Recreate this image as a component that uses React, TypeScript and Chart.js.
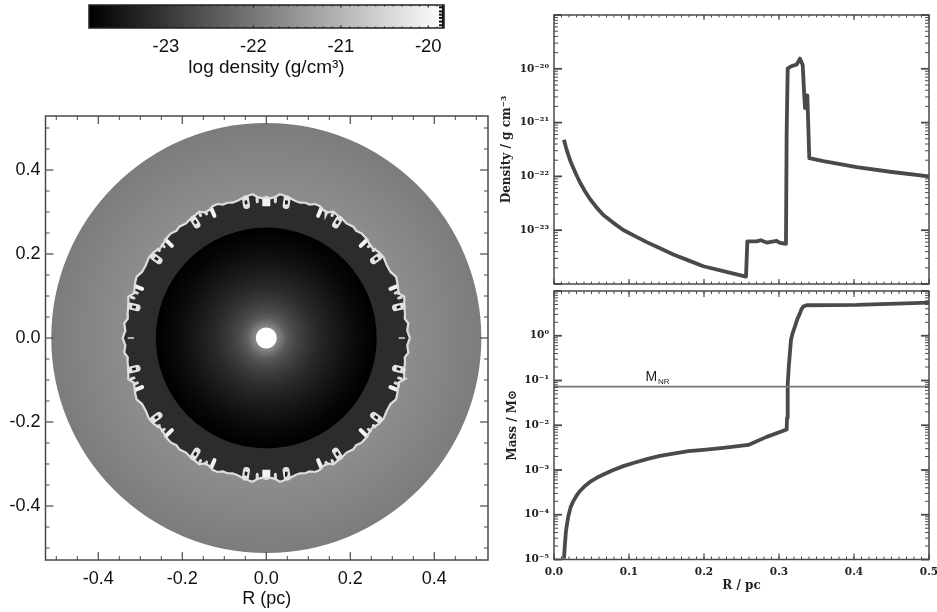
import React, { useEffect, useRef } from "react";
import { Chart, registerables } from "chart.js";

Chart.register(...registerables);

// ---------- profile data ----------
const densityRadius = [0.0133, 0.016, 0.0191, 0.0222, 0.0258, 0.0302, 0.0347, 0.0413, 0.048, 0.0569, 0.0658, 0.0791, 0.0924, 0.108, 0.1236, 0.1413, 0.1591, 0.1791, 0.1991, 0.2258, 0.256, 0.2578, 0.2702, 0.2756, 0.2836, 0.2969, 0.3013, 0.3093, 0.3102, 0.3116, 0.3169, 0.3236, 0.328, 0.3316, 0.3338, 0.3347, 0.336, 0.3378, 0.3404, 0.3591, 0.4036, 0.448, 0.5];
const densityValue = [4.8e-22, 3.44e-22, 2.5e-22, 1.87e-22, 1.43e-22, 1.04e-22, 7.7e-23, 5.3e-23, 3.8e-23, 2.63e-23, 1.92e-23, 1.37e-23, 1.01e-23, 7.76e-24, 6.0e-24, 4.6e-24, 3.55e-24, 2.75e-24, 2.14e-24, 1.74e-24, 1.37e-24, 6.2e-24, 6.2e-24, 6.5e-24, 5.9e-24, 6.3e-24, 5.8e-24, 5.6e-24, 6.3e-22, 1.02e-20, 1.12e-20, 1.2e-20, 1.55e-20, 1.17e-20, 3.0e-21, 1.86e-21, 3.2e-21, 3.2e-21, 2.18e-22, 1.92e-22, 1.48e-22, 1.22e-22, 1.0e-22];

const massRadius = [0.0133, 0.0142, 0.016, 0.0191, 0.0222, 0.0258, 0.0302, 0.0347, 0.0413, 0.048, 0.0569, 0.0658, 0.0791, 0.0924, 0.108, 0.1236, 0.1413, 0.1591, 0.1791, 0.1991, 0.2258, 0.2591, 0.2836, 0.3102, 0.3107, 0.3116, 0.3129, 0.3147, 0.316, 0.3182, 0.3213, 0.3244, 0.328, 0.3302, 0.3324, 0.3369, 0.4036, 0.5];
const massValue = [1.05e-5, 1.82e-5, 4.4e-5, 9.3e-5, 1.48e-4, 2.02e-4, 2.7e-4, 3.4e-4, 4.4e-4, 5.4e-4, 6.7e-4, 7.9e-4, 1.0e-3, 1.22e-3, 1.47e-3, 1.75e-3, 2.07e-3, 2.33e-3, 2.63e-3, 2.82e-3, 3.12e-3, 3.63e-3, 5.5e-3, 8.0e-3, 1.46e-2, 8.05e-2, 0.19, 0.447, 0.81, 1.15, 1.62, 2.35, 3.2, 4.0, 4.5, 4.8, 4.9, 5.5];
const nrMassRadius = [0, 0.5];
const nrMassValue = [0.0728, 0.0728];

// ---------- density map ----------
const outerRadius = 0.512;
const cavityRadius = 0.263;
const holeRadius = 0.025;
const shellGrey = 44;
const outerDiscRadii = [0.335, 0.42, 0.512];
const outerDiscGrey = [141, 133, 124];
const cavityRadii = [0.025, 0.048, 0.0658, 0.0924, 0.1236, 0.159, 0.199, 0.2258, 0.263];
const cavityGrey = [138, 92, 74, 56, 40, 27, 14, 7, 0];

// front edge, one quadrant: angle in degrees from +x, radius in pc
const frontAngles = [0, 3, 5.9, 8, 10, 13, 16.7, 18.5, 20, 23, 25.3, 28, 31.2, 34.5, 37.6, 40, 41.9, 45, 47.7, 50, 52, 55, 57.8, 60, 62, 64, 66, 68, 70, 72, 74, 76, 78.2, 80, 81.8, 83, 84.6, 86.5, 88.5, 90];
const frontRadii = [0.342, 0.336, 0.34, 0.333, 0.3354, 0.337, 0.343, 0.333, 0.3344, 0.339, 0.3416, 0.335, 0.3352, 0.339, 0.3367, 0.331, 0.3317, 0.336, 0.337, 0.333, 0.3364, 0.333, 0.3368, 0.338, 0.3405, 0.332, 0.3336, 0.339, 0.3395, 0.334, 0.335, 0.332, 0.334, 0.337, 0.3385, 0.342, 0.3437, 0.336, 0.3327, 0.336];

const fingerAngles = [67, 44.3, 21.6];
const fingerTipRadii = [0.316, 0.314, 0.318];
const fingerBaseRadii = [0.334, 0.334, 0.334];
const stubAngles = [86.2, 64.3, 61.8, 41.8, 39.3, 19.2, 16.8];
const stubTipRadii = [0.325, 0.328, 0.331, 0.326, 0.329, 0.325, 0.329];
const stubBaseRadii = [0.333, 0.333, 0.335, 0.332, 0.334, 0.333, 0.336];
const eyeAngles = [81.5, 58.5, 35.8, 13.2];
const eyeRadii = [0.328, 0.325, 0.324, 0.325];

// ---------- tick labels and ticks ----------
const mapMajorTicks = [-0.4, -0.2, 0, 0.2, 0.4];
const mapMinorTicks = [-0.5, -0.45, -0.35, -0.3, -0.25, -0.15, -0.1, -0.05, 0.05, 0.1, 0.15, 0.25, 0.3, 0.35, 0.45, 0.5];
const barTicks = [-23, -22, -21, -20];
const barMinorTicks = [-23.8, -23.7, -23.6, -23.5, -23.4, -23.3, -23.2, -23.1, -22.9, -22.8, -22.7, -22.6, -22.5, -22.4, -22.3, -22.2, -22.1, -21.9, -21.8, -21.7, -21.6, -21.5, -21.4, -21.3, -21.2, -21.1, -20.9, -20.8, -20.7, -20.6, -20.5, -20.4, -20.3, -20.2, -20.1, -19.9];
const radiusTicks = [0, 0.1, 0.2, 0.3, 0.4, 0.5];
const radiusMinorStepCount = 50;
const densityDecades = [-24, -23, -22, -21, -20, -19];
const densityLabelled = [-23, -22, -21, -20];
const massDecades = [-5, -4, -3, -2, -1, 0, 1];
const massLabelled = [-5, -4, -3, -2, -1, 0];
const logMultipliers = [2, 3, 4, 5, 6, 7, 8, 9];

const barMin = -23.88;
const barMax = -19.82;
const mapXMin = -0.5257;
const mapXMax = 0.5279;
const mapYMax = 0.5286;

const FRAME = "#4a4a4a";
const SANS = "'Liberation Sans', Arial, sans-serif";
const SLAB = "'DejaVu Serif', serif";

const SUP: Record<string, string> = { "-": "⁻", "0": "⁰", "1": "¹", "2": "²", "3": "³", "4": "⁴", "5": "⁵", "6": "⁶", "7": "⁷", "8": "⁸", "9": "⁹" };
const powerLabel = (v: number) => "10" + String(Math.round(Math.log10(v))).split("").map((c) => SUP[c]).join("");
const grey = (g: number) => `rgb(${g},${g},${g})`;
const round = (a: number, k: number) => Math.round(a * k) / k;

// polar reading -> data coordinates
const polar = (deg: number, r: number) => ({ x: r * Math.cos((deg * Math.PI) / 180), y: r * Math.sin((deg * Math.PI) / 180) });
const mirrored = (a: number) => [a, 180 - a, 180 + a, 360 - a];

const frontLoop = () => {
  const pts: { x: number; y: number }[] = [];
  const n = frontAngles.length;
  for (let i = 0; i < n; i++) pts.push(polar(frontAngles[i], frontRadii[i]));
  for (let i = n - 2; i >= 0; i--) pts.push(polar(180 - frontAngles[i], frontRadii[i]));
  for (let i = 1; i < n; i++) pts.push(polar(180 + frontAngles[i], frontRadii[i]));
  for (let i = n - 2; i >= 0; i--) pts.push(polar(360 - frontAngles[i], frontRadii[i]));
  return pts;
};

const radialSegments = (angles: number[], from: number[], to: number[]) => {
  const out: any[] = [];
  angles.forEach((a, i) => {
    mirrored(a).forEach((m) => {
      out.push(polar(m, from[i]), polar(m, to[i]), { x: NaN, y: NaN });
    });
  });
  return out;
};

// ---------- plugins ----------
type TickSpec = {
  xMajor: number[];
  xMinor: number[];
  yMajor: number[];
  yMinor: number[];
  xMajorLen: number;
  xMinorLen: number;
  yMajorLen: number;
  yMinorLen: number;
  yMajorWidth: number;
  frame?: number;
  color?: string;
};

const frameTicks = (spec: TickSpec) => ({
  id: "frameTicks",
  afterDatasetsDraw(chart: any) {
    const { ctx, chartArea: a, scales } = chart;
    const color = spec.color || FRAME;
    ctx.save();
    ctx.strokeStyle = color;
    const seg = (x0: number, y0: number, x1: number, y1: number, w: number) => {
      ctx.lineWidth = w;
      ctx.beginPath();
      ctx.moveTo(x0, y0);
      ctx.lineTo(x1, y1);
      ctx.stroke();
    };
    const xT = (v: number, len: number, w: number) => {
      const p = scales.x.getPixelForValue(v);
      seg(p, a.bottom, p, a.bottom - len, w);
      seg(p, a.top, p, a.top + len, w);
    };
    const yT = (v: number, len: number, w: number) => {
      const p = scales.y.getPixelForValue(v);
      seg(a.left, p, a.left + len, p, w);
      seg(a.right, p, a.right - len, p, w);
    };
    spec.xMinor.forEach((v) => xT(v, spec.xMinorLen, 1));
    spec.xMajor.forEach((v) => xT(v, spec.xMajorLen, 1.2));
    spec.yMinor.forEach((v) => yT(v, spec.yMinorLen, 1));
    spec.yMajor.forEach((v) => yT(v, spec.yMajorLen, spec.yMajorWidth));
    ctx.lineWidth = spec.frame || 1.5;
    ctx.strokeRect(a.left, a.top, a.right - a.left, a.bottom - a.top);
    ctx.restore();
  },
});

const densityMap = {
  id: "densityMap",
  beforeDatasetsDraw(chart: any) {
    const { ctx, chartArea: a, scales } = chart;
    const X = scales.x;
    const Y = scales.y;
    const cx = X.getPixelForValue(0);
    const cy = Y.getPixelForValue(0);
    const px = (r: number) => X.getPixelForValue(r) - cx;
    ctx.save();
    ctx.beginPath();
    ctx.rect(a.left, a.top, a.right - a.left, a.bottom - a.top);
    ctx.clip();
    const disc = (r: number, fill: any) => {
      ctx.fillStyle = fill;
      ctx.beginPath();
      ctx.arc(cx, cy, px(r), 0, Math.PI * 2);
      ctx.fill();
    };
    const radial = (radii: number[], greys: number[], rMax: number) => {
      const g = ctx.createRadialGradient(cx, cy, 0, cx, cy, px(rMax));
      radii.forEach((r, i) => g.addColorStop(r / rMax, grey(greys[i])));
      return g;
    };
    disc(outerRadius, radial(outerDiscRadii, outerDiscGrey, outerRadius));
    ctx.fillStyle = grey(shellGrey);
    ctx.beginPath();
    frontLoop().forEach((p, i) => {
      const x = X.getPixelForValue(p.x);
      const y = Y.getPixelForValue(p.y);
      if (i === 0) ctx.moveTo(x, y);
      else ctx.lineTo(x, y);
    });
    ctx.closePath();
    ctx.fill();
    disc(cavityRadius, radial(cavityRadii, cavityGrey, cavityRadius));
    disc(holeRadius, "#ffffff");
    ctx.restore();
  },
};

const colorbarEnd = {
  id: "colorbarEnd",
  afterDatasetsDraw(chart: any) {
    const { ctx, chartArea: a } = chart;
    ctx.save();
    ctx.fillStyle = "#111";
    [0.1, 0.28, 0.42, 0.56, 0.72, 0.88].forEach((f) => {
      ctx.fillRect(a.right - 5, a.top + f * (a.bottom - a.top) - 1, 5, 2);
    });
    ctx.fillRect(a.right - 2, a.top, 2, a.bottom - a.top);
    ctx.restore();
  },
};

const nrLabel = {
  id: "nrLabel",
  afterDatasetsDraw(chart: any) {
    const { ctx, scales } = chart;
    const x = scales.x.getPixelForValue(0.122);
    const y = scales.y.getPixelForValue(0.1);
    ctx.save();
    ctx.fillStyle = "#222";
    ctx.textBaseline = "alphabetic";
    ctx.textAlign = "left";
    ctx.font = `14px ${SANS}`;
    ctx.fillText("M", x, y);
    ctx.font = `8px ${SANS}`;
    ctx.fillText("NR", x + 12.5, y + 3.5);
    ctx.restore();
  },
};

const pin = (size: { width?: number; height?: number }) => (s: any) => {
  if (size.width !== undefined) s.width = size.width;
  if (size.height !== undefined) s.height = size.height;
  s.paddingLeft = s.paddingRight = s.paddingTop = s.paddingBottom = 0;
};
const useTicks = (vals: number[]) => (s: any) => {
  s.ticks = vals.map((value) => ({ value }));
};
const decadeValues = (d: number[]) => d.map((e) => Math.pow(10, e));
const decadeMinors = (d: number[]) => {
  const out: number[] = [];
  d.slice(0, -1).forEach((e) => logMultipliers.forEach((m) => out.push(m * Math.pow(10, e))));
  return out;
};
const radiusMinors = Array.from({ length: radiusMinorStepCount + 1 }, (_, i) => (i * 0.5) / radiusMinorStepCount);
const noGrid = { display: false, drawTicks: false };
const noBorder = { display: false };

// ---------- chart configs ----------
const barConfig = (): any => ({
  type: "bar",
  data: {
    labels: ["log density"],
    datasets: [
      {
        label: "log density (g/cm³)",
        data: [[barMin, barMax]],
        barPercentage: 1,
        categoryPercentage: 1,
        borderSkipped: false,
        backgroundColor: (c: any) => {
          const { chart } = c;
          if (!chart.chartArea) return "#888";
          const g = chart.ctx.createLinearGradient(chart.scales.x.getPixelForValue(barMin), 0, chart.scales.x.getPixelForValue(barMax), 0);
          g.addColorStop(0, "#000");
          g.addColorStop(1, "#fff");
          return g;
        },
      },
    ],
  },
  plugins: [
    colorbarEnd,
    frameTicks({ xMajor: barTicks, xMinor: barMinorTicks, yMajor: [], yMinor: [], xMajorLen: 2.5, xMinorLen: 1.5, yMajorLen: 0, yMinorLen: 0, yMajorWidth: 1, frame: 1.5, color: "#222" }),
  ],
  options: {
    indexAxis: "y",
    animation: false,
    responsive: false,
    devicePixelRatio: 1,
    layout: { padding: { left: 89, right: 56, top: 5, bottom: 0 } },
    plugins: { legend: { display: false }, tooltip: { enabled: false } },
    scales: {
      y: { display: false, grid: noGrid, border: noBorder },
      x: {
        type: "linear",
        min: barMin,
        max: barMax,
        grid: noGrid,
        border: noBorder,
        afterFit: pin({ height: 57 }),
        afterBuildTicks: useTicks(barTicks),
        ticks: { padding: 8, autoSkip: false, maxRotation: 0, color: "#111", font: { family: SANS, size: 18.5 }, callback: (v: number) => String(v) },
        title: { display: true, text: "log density (g/cm³)", color: "#111", font: { family: SANS, size: 19 }, padding: { top: 0, bottom: 6 } },
      },
    },
  },
});

const mapConfig = (): any => ({
  type: "scatter",
  data: {
    datasets: [
      { label: "fingers", data: radialSegments(fingerAngles, fingerBaseRadii, fingerTipRadii), showLine: true, spanGaps: false, borderColor: "#f4f4f4", borderWidth: 4, borderCapStyle: "round", pointRadius: 0 },
      { label: "stubs", data: radialSegments(stubAngles, stubBaseRadii, stubTipRadii), showLine: true, spanGaps: false, borderColor: "#dcdcdc", borderWidth: 3, borderCapStyle: "round", pointRadius: 0 },
      { label: "axis blocks", data: [polar(90, 0.3357), polar(90, 0.314), { x: NaN, y: NaN }, polar(270, 0.3357), polar(270, 0.314)], showLine: true, spanGaps: false, borderColor: "#f4f4f4", borderWidth: 8, pointRadius: 0 },
      { label: "axis dashes", data: [polar(0, 0.33), polar(0, 0.315), { x: NaN, y: NaN }, polar(180, 0.33), polar(180, 0.315)], showLine: true, spanGaps: false, borderColor: "#dddddd", borderWidth: 1.5, pointRadius: 0 },
      { label: "front", data: [...frontLoop(), polar(frontAngles[0], frontRadii[0])], showLine: true, borderColor: "#dedede", borderWidth: 2.2, pointRadius: 0 },
      { label: "eye rims", data: radialSegments(eyeAngles, eyeRadii.map((r) => r + 0.007), eyeRadii.map((r) => r - 0.009)), showLine: true, spanGaps: false, borderColor: "#e2e2e2", borderWidth: 7, borderCapStyle: "round", pointRadius: 0 },
      { label: "eyes", data: radialSegments(eyeAngles, eyeRadii.map((r) => r + 0.003), eyeRadii.map((r) => r - 0.006)), showLine: true, spanGaps: false, borderColor: "#1c1c1c", borderWidth: 2.6, pointRadius: 0 },
    ].map((d: any, i, arr) => ({ ...d, order: arr.length - i })),
  },
  plugins: [
    densityMap,
    frameTicks({ xMajor: mapMajorTicks, xMinor: mapMinorTicks, yMajor: mapMajorTicks, yMinor: mapMinorTicks, xMajorLen: 8, xMinorLen: 4, yMajorLen: 8, yMinorLen: 4, yMajorWidth: 1.2, frame: 1.5 }),
  ],
  options: {
    animation: false,
    responsive: false,
    devicePixelRatio: 1,
    layout: { padding: { left: 0, right: 12, top: 6, bottom: 0 } },
    plugins: { legend: { display: false }, tooltip: { enabled: false } },
    scales: {
      x: {
        type: "linear",
        min: mapXMin,
        max: mapXMax,
        grid: noGrid,
        border: noBorder,
        afterFit: pin({ height: 52 }),
        afterBuildTicks: useTicks(mapMajorTicks),
        ticks: { padding: 8, autoSkip: false, maxRotation: 0, color: "#111", font: { family: SANS, size: 18 }, callback: (v: number) => round(v, 10).toFixed(1) },
        title: { display: true, text: "R (pc)", color: "#111", font: { family: SANS, size: 18 }, padding: { top: 0, bottom: 2 } },
      },
      y: {
        type: "linear",
        min: -mapYMax,
        max: mapYMax,
        grid: noGrid,
        border: noBorder,
        afterFit: pin({ width: 45.5 }),
        afterBuildTicks: useTicks(mapMajorTicks),
        ticks: { padding: 5, autoSkip: false, color: "#111", font: { family: SANS, size: 18 }, callback: (v: number) => round(v, 10).toFixed(1) },
      },
    },
  },
});

const curveOptions = (o: any): any => ({
  animation: false,
  responsive: false,
  devicePixelRatio: 1,
  layout: { padding: o.padding },
  plugins: { legend: { display: false }, tooltip: { enabled: false } },
  scales: {
    x: {
      type: "linear",
      min: 0,
      max: 0.5,
      grid: noGrid,
      border: noBorder,
      afterFit: pin({ height: o.xHeight }),
      afterBuildTicks: useTicks(radiusTicks),
      ticks: { display: o.xLabels, padding: 6, autoSkip: false, maxRotation: 0, color: "#222", font: { family: SLAB, size: 10.5, weight: "bold" }, callback: (v: number) => round(v, 10).toFixed(1) },
      title: { display: o.xLabels, text: "R / pc", color: "#222", font: { family: SLAB, size: 12, weight: "bold" }, padding: { top: 0, bottom: 19 } },
    },
    y: {
      type: "logarithmic",
      min: o.yMin,
      max: o.yMax,
      grid: noGrid,
      border: noBorder,
      afterFit: pin({ width: 64 }),
      afterBuildTicks: useTicks(o.yLabelled),
      ticks: { padding: 5, autoSkip: false, color: "#222", font: { family: SLAB, size: 10.5, weight: "bold" }, callback: (v: number) => powerLabel(v) },
      title: { display: true, text: o.yTitle, color: "#222", font: { family: SLAB, size: 12, weight: "bold" }, padding: { top: o.yTitlePad, bottom: 0 } },
    },
  },
});

const zip = (xs: number[], ys: number[]) => xs.map((x, i) => ({ x, y: ys[i] }));

const densityConfig = (): any => ({
  type: "scatter",
  data: { datasets: [{ label: "Density", data: zip(densityRadius, densityValue), showLine: true, borderColor: "#4a4a4a", borderWidth: 3.8, pointRadius: 0, borderJoinStyle: "round" }] },
  plugins: [
    frameTicks({ xMajor: radiusTicks, xMinor: radiusMinors, yMajor: decadeValues(densityDecades), yMinor: decadeMinors(densityDecades), xMajorLen: 5, xMinorLen: 2.5, yMajorLen: 8, yMinorLen: 4, yMajorWidth: 1.8, frame: 1.5 }),
  ],
  options: curveOptions({ padding: { left: 0, right: 8, top: 15, bottom: 0 }, xHeight: 6, xLabels: false, yMin: 1e-24, yMax: 1e-19, yLabelled: decadeValues(densityLabelled), yTitle: "Density / g cm⁻³", yTitlePad: 10 }),
});

const massConfig = (): any => ({
  type: "scatter",
  data: {
    datasets: [
      { label: "Mass", data: zip(massRadius, massValue), showLine: true, borderColor: "#4a4a4a", borderWidth: 3.8, pointRadius: 0, borderJoinStyle: "round", order: 1 },
      { label: "M_NR", data: zip(nrMassRadius, nrMassValue), showLine: true, borderColor: "#777777", borderWidth: 1.6, pointRadius: 0, order: 0 },
    ],
  },
  plugins: [
    nrLabel,
    frameTicks({ xMajor: radiusTicks, xMinor: radiusMinors, yMajor: decadeValues(massDecades), yMinor: decadeMinors(massDecades), xMajorLen: 6, xMinorLen: 3, yMajorLen: 8, yMinorLen: 4, yMajorWidth: 1.8, frame: 1.5 }),
  ],
  options: curveOptions({ padding: { left: 0, right: 8, top: 5, bottom: 0 }, xHeight: 52.5, xLabels: true, yMin: 1e-5, yMax: 10, yLabelled: decadeValues(massLabelled), yTitle: "Mass / M⊙", yTitlePad: 15.5 }),
});

// ---------- components ----------
function Panel({ left, top, width, height, make }: { left: number; top: number; width: number; height: number; make: () => any }) {
  const ref = useRef<HTMLCanvasElement>(null);
  useEffect(() => {
    const chart = new Chart(ref.current as HTMLCanvasElement, make());
    return () => chart.destroy();
  }, [make]);
  return <canvas ref={ref} width={width} height={height} style={{ position: "absolute", left, top, width, height, display: "block", filter: "blur(0.4px)" }} />;
}

export default function App() {
  return (
    <div style={{ position: "absolute", left: 0, top: 0, width: 937, height: 612, overflow: "hidden", background: "#fff" }}>
      <Panel left={0} top={110} width={500} height={502} make={mapConfig} />
      <Panel left={0} top={0} width={500} height={85} make={barConfig} />
      <Panel left={490} top={0} width={447} height={290} make={densityConfig} />
      <Panel left={490} top={286} width={447} height={326} make={massConfig} />
    </div>
  );
}
